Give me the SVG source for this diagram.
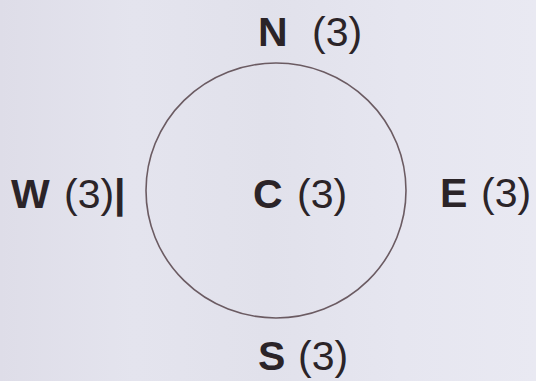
<svg xmlns="http://www.w3.org/2000/svg" width="536" height="381" viewBox="0 0 536 381">
  <defs>
    <linearGradient id="bg" x1="0" y1="0" x2="1" y2="0">
      <stop offset="0" stop-color="#dedde8"/>
      <stop offset="0.25" stop-color="#e4e4ee"/>
      <stop offset="0.5" stop-color="#e1e1eb"/>
      <stop offset="0.75" stop-color="#e6e6f0"/>
      <stop offset="1" stop-color="#e9e9f2"/>
    </linearGradient>
  </defs>
  <style>
    .lbl { font-family: "Liberation Sans", Arial, sans-serif; font-size: 41px; fill: #2b2428; }
    .b { font-weight: bold; }
    .ring { fill: none; stroke: #6b5b62; stroke-width: 1.6; }
  </style>
  <rect width="536" height="381" fill="url(#bg)"/>
  <g id="connectors"></g>
  <g id="node-C">
    <ellipse class="ring" cx="276" cy="190.5" rx="130" ry="127.5"/>
    <text class="lbl" y="208"><tspan class="b" x="253">C</tspan><tspan x="297">(3)</tspan></text>
  </g>
  <g id="node-N">
    <text class="lbl" y="46"><tspan class="b" x="258">N</tspan><tspan x="312">(3)</tspan></text>
  </g>
  <g id="node-W">
    <text class="lbl" y="208"><tspan class="b" x="11">W</tspan><tspan x="64">(3)</tspan><tspan class="b">|</tspan></text>
  </g>
  <g id="node-E">
    <text class="lbl" y="207"><tspan class="b" x="440">E</tspan><tspan x="481">(3)</tspan></text>
  </g>
  <g id="node-S">
    <text class="lbl" y="370"><tspan class="b" x="258">S</tspan><tspan x="298">(3)</tspan></text>
  </g>
</svg>
